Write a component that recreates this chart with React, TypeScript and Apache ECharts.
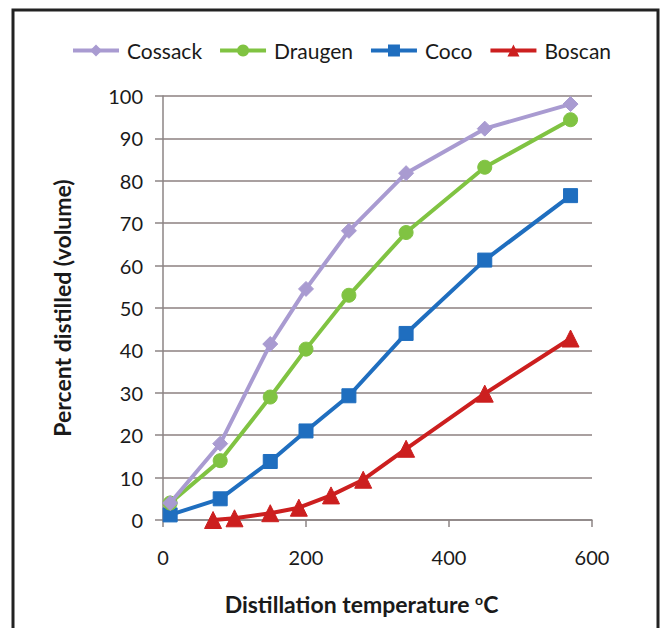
import React, { useEffect, useRef } from "react";
import * as echarts from "echarts";

const seriesNames = ["Cossack", "Draugen", "Coco", "Boscan"];

const cossackX = [10, 80, 150, 200, 260, 340, 450, 570];
const cossackY = [4, 18, 41.5, 54.5, 68.2, 81.8, 92.3, 98.1];

const draugenX = [10, 80, 150, 200, 260, 340, 450, 570];
const draugenY = [4, 14, 29, 40.3, 53, 67.8, 83.2, 94.4];

const cocoX = [10, 80, 150, 200, 260, 340, 450, 570];
const cocoY = [1.2, 5, 13.8, 21, 29.3, 44, 61.3, 76.5];

const boscanX = [70, 100, 150, 190, 235, 280, 340, 450, 570];
const boscanY = [0, 0.4, 1.6, 2.9, 5.8, 9.5, 16.8, 29.8, 42.8];

const xTicks = { min: 0, max: 600, interval: 200 };
const yTicks = { min: 0, max: 100, interval: 10 };

const colors = ["#a99bd1", "#80c342", "#1f6ebf", "#cc1f1f"];
const symbols = ["diamond", "circle", "rect", "triangle"];
const symbolSizes = [15, 14, 14, 17];

const FONT = "Lato, 'Open Sans', sans-serif";

function pairs(xs: number[], ys: number[]) {
  return xs.map((x, i) => [x, ys[i]]);
}

export default function App() {
  const ref = useRef<HTMLDivElement>(null);
  useEffect(() => {
    if (!ref.current) return;
    const chart = echarts.init(ref.current, null, { renderer: "svg" });
    const data = [
      pairs(cossackX, cossackY),
      pairs(draugenX, draugenY),
      pairs(cocoX, cocoY),
      pairs(boscanX, boscanY),
    ];
    chart.setOption({
      animation: false,
      backgroundColor: "#ffffff",
      textStyle: { fontFamily: FONT },
      grid: { left: 163, right: 71, top: 96, bottom: 108, containLabel: false },
      legend: {
        top: 35,
        left: 66,
        itemWidth: 46,
        itemHeight: 15,
        itemGap: 16,
        lineStyle: { width: 4 },
        textStyle: { fontSize: 21, color: "#1a1a1a", fontFamily: FONT, padding: [0, 0, 0, 3] },
        data: seriesNames,
      },
      xAxis: {
        type: "value",
        min: xTicks.min,
        max: xTicks.max,
        interval: xTicks.interval,
        name: "Distillation temperature {sup|o}C",
        nameLocation: "middle",
        nameGap: 72,
        nameTextStyle: {
          fontSize: 23,
          fontWeight: "bold",
          color: "#1a1a1a",
          fontFamily: FONT,
          padding: [0, 32, 0, 0],
          rich: {
            sup: { fontSize: 14, fontWeight: "bold", verticalAlign: "top", padding: [0, 0, 9, 0], color: "#1a1a1a" },
          },
        },
        axisLine: { show: true, lineStyle: { color: "#8c8585", width: 1.5 } },
        axisTick: { show: true, length: 7, lineStyle: { color: "#8c8585", width: 1.5 } },
        axisLabel: { fontSize: 20, color: "#1a1a1a", margin: 27, fontFamily: FONT },
        splitLine: { show: false },
      },
      yAxis: {
        type: "value",
        min: yTicks.min,
        max: yTicks.max,
        interval: yTicks.interval,
        name: "Percent distilled (volume)",
        nameLocation: "middle",
        nameGap: 90,
        nameTextStyle: { fontSize: 23, fontWeight: "bold", color: "#1a1a1a", fontFamily: FONT },
        axisLine: { show: true, lineStyle: { color: "#8c8585", width: 1.5 } },
        axisTick: { show: true, inside: false, length: 8, lineStyle: { color: "#8c8585", width: 1.5 } },
        axisLabel: { fontSize: 20, color: "#1a1a1a", margin: 20, fontFamily: FONT },
        splitLine: { show: true, lineStyle: { color: "#8c8080", width: 1.5 } },
      },
      graphic: [
        {
          type: "rect",
          shape: { x: 13, y: 10, width: 645, height: 640 },
          style: { fill: "none", stroke: "#222222", lineWidth: 3 },
          silent: true,
          z: 100,
        },
      ],
      series: seriesNames.map((name, i) => ({
        name,
        type: "line",
        data: data[i],
        symbol: symbols[i],
        symbolSize: symbolSizes[i],
        showAllSymbol: true,
        lineStyle: { color: colors[i], width: 4 },
        itemStyle: { color: colors[i], borderColor: colors[i] },
        z: 10 - i,
      })),
    });
    return () => chart.dispose();
  }, []);
  return (
    <div
      ref={ref}
      style={{ position: "fixed", left: 0, top: 0, width: 663, height: 628, background: "#fff" }}
    />
  );
}
